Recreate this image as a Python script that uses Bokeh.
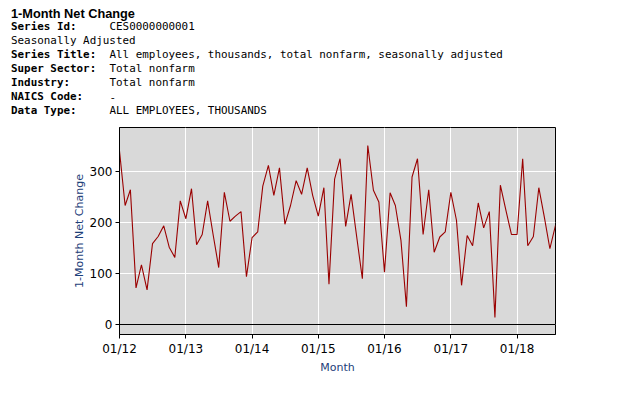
from datetime import datetime
from bokeh.plotting import figure
from bokeh.layouts import column
from bokeh.models import (ColumnDataSource, Range1d, FixedTicker, DatetimeTickFormatter,
                          Span, Label)
from bokeh.embed import file_html
from bokeh.resources import INLINE

# ---- data -------------------------------------------------------------
start_year, start_month = 2012, 1
net_change = [341, 234, 265, 72, 117, 68, 159, 173, 194, 152, 132, 243,   # 2012
              208, 267, 157, 177, 243, 175, 112, 260, 203, 213, 222, 94,  # 2013
              171, 182, 272, 313, 254, 308, 197, 234, 283, 256, 308, 254, # 2014
              213, 269, 79, 286, 326, 193, 256, 172, 90, 352, 264, 241,   # 2015
              103, 259, 234, 165, 35, 290, 326, 177, 265, 142, 172, 182,  # 2016
              260, 205, 77, 175, 155, 239, 190, 222, 14, 274, 224, 177,   # 2017
              177, 326, 155, 173, 269, 210, 149, 195]                     # 2018
months = [datetime(start_year + (start_month - 1 + i) // 12, (start_month - 1 + i) % 12 + 1, 1)
          for i in range(len(net_change))]
tick_years = [2012, 2013, 2014, 2015, 2016, 2017, 2018]
y_ticks = [0, 100, 200, 300]

header_title = "1-Month Net Change"
header_labels = ["Series Id:", "Seasonally Adjusted", "Series Title:", "Super Sector:",
                 "Industry:", "NAICS Code:", "Data Type:"]
header_values = ["CES0000000001", "",
                 "All employees, thousands, total nonfarm, seasonally adjusted",
                 "Total nonfarm", "Total nonfarm", "-", "ALL EMPLOYEES, THOUSANDS"]

# ---- header figure (text only) -----------------------------------------
HEAD_W, HEAD_H = 620, 120
head = figure(width=HEAD_W, height=HEAD_H, output_backend="svg", toolbar_location=None,
              x_range=Range1d(0, HEAD_W), y_range=Range1d(HEAD_H, 0),
              x_axis_location=None, y_axis_location=None,
              min_border=0, min_border_left=0, min_border_right=0,
              min_border_top=0, min_border_bottom=0)
head.frame_align = False
head.outline_line_color = None
head.grid.visible = False
head.background_fill_color = "white"
head.border_fill_color = "white"

head.add_layout(Label(x=10.5, y=12.7, text=header_title,
                      text_font="Liberation Sans", text_font_style="bold",
                      text_font_size="12.75px", text_baseline="middle", text_color="black"))
for i, (lab, val) in enumerate(zip(header_labels, header_values)):
    yy = 26.2 + 14 * i
    bold = lab != "Seasonally Adjusted"
    head.add_layout(Label(x=10.5, y=yy, text=lab,
                          text_font="DejaVu Sans Mono",
                          text_font_style="bold" if bold else "normal",
                          text_font_size="10.9px", text_baseline="middle", text_color="black"))
    if val:
        head.add_layout(Label(x=109, y=yy, text=val,
                              text_font="DejaVu Sans Mono", text_font_size="10.9px",
                              text_baseline="middle", text_color="black"))

# ---- chart figure -------------------------------------------------------
src = ColumnDataSource(dict(x=months, y=net_change))

p = figure(x_axis_type="datetime", output_backend="svg", toolbar_location=None,
           frame_width=436, frame_height=207,
           min_border_left=119, min_border_top=127 - HEAD_H,
           min_border_right=60, min_border_bottom=50,
           x_range=Range1d(months[0], months[-1]), y_range=Range1d(-19.7, 387.4))
p.frame_align = False
p.background_fill_color = "#D9D9D9"
p.border_fill_color = "white"
p.outline_line_color = "black"
p.outline_line_width = 1

p.line("x", "y", source=src, line_color="#9A0000", line_width=1.1)

p.add_layout(Span(location=0, dimension="width", line_color="black", line_width=1.2))

p.xgrid.grid_line_color = "white"
p.ygrid.grid_line_color = "white"

tick_ms = [datetime(y, 1, 1).timestamp() * 1000 for y in tick_years]
p.xaxis.ticker = FixedTicker(ticks=tick_ms)
p.xgrid.ticker = FixedTicker(ticks=tick_ms)
fmt = "%m/%y"
p.xaxis.formatter = DatetimeTickFormatter(microseconds=fmt, milliseconds=fmt, seconds=fmt,
                                          minsec=fmt, minutes=fmt, hourmin=fmt, hours=fmt,
                                          days=fmt, months=fmt, years=fmt)
p.yaxis.ticker = FixedTicker(ticks=y_ticks)
p.ygrid.ticker = FixedTicker(ticks=y_ticks)

for ax in (p.xaxis[0], p.yaxis[0]):
    ax.axis_line_color = "black"
    ax.major_tick_line_color = "black"
    ax.major_tick_out = 4
    ax.major_tick_in = 0
    ax.minor_tick_line_color = None
    ax.major_label_text_font = "DejaVu Sans"
    ax.major_label_text_font_size = "12px"
    ax.major_label_text_color = "black"
    ax.axis_label_text_font = "DejaVu Sans"
    ax.axis_label_text_font_size = "11px"
    ax.axis_label_text_font_style = "normal"
    ax.axis_label_text_color = "#1D4079"
    ax.major_label_standoff = 3

p.xaxis.axis_label = "Month"
p.yaxis.axis_label = "1-Month Net Change"
p.xaxis.axis_label_standoff = 2
p.yaxis.axis_label_standoff = 1

layout = column(head, p, spacing=0)
open("out.html", "w").write(file_html(layout, INLINE))
